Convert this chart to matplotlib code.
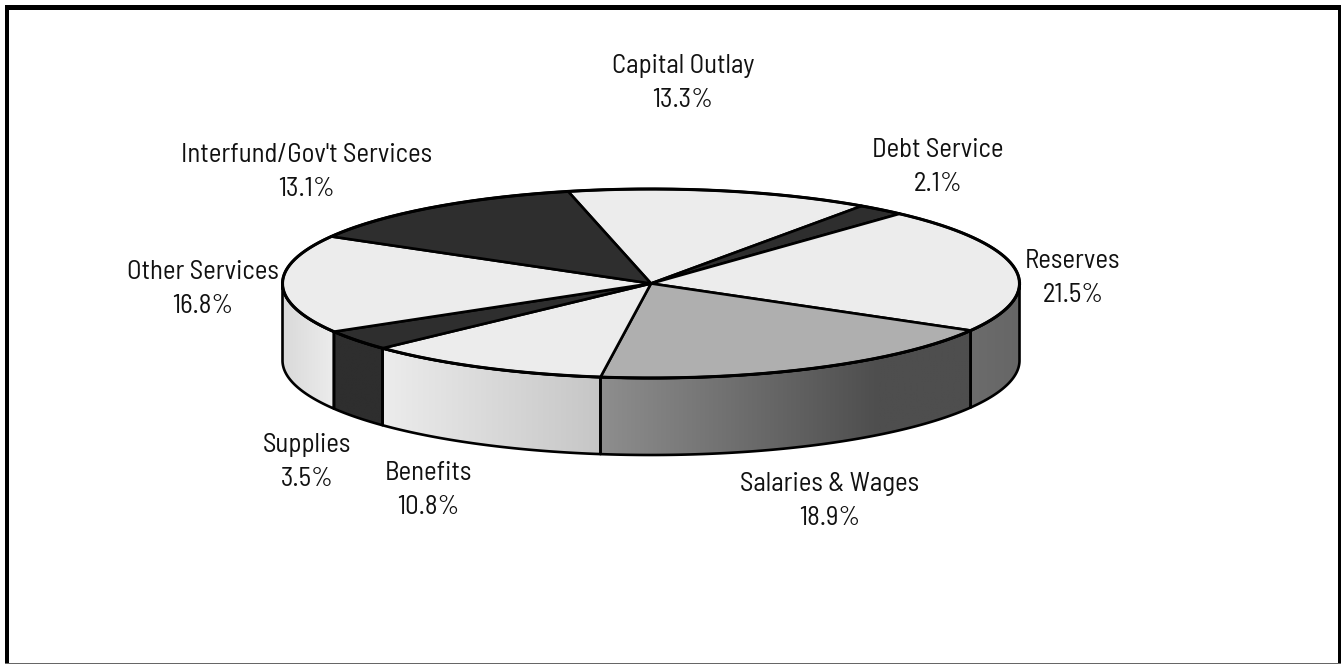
import numpy as np
import matplotlib
matplotlib.use("Agg")
import matplotlib.pyplot as plt
from matplotlib.patches import Polygon, Rectangle
from matplotlib.colors import LinearSegmentedColormap

# Budget shares, clockwise from the top of the disc
categories = ["Capital Outlay", "Debt Service", "Reserves", "Salaries & Wages",
              "Benefits", "Supplies", "Other Services", "Interfund/Gov't Services"]
shares = [13.3, 2.1, 21.5, 18.9, 10.8, 3.5, 16.8, 13.1]
top_colors = ["#ececec", "#2e2e2e", "#ececec", "#afafaf",
              "#ececec", "#2e2e2e", "#ececec", "#2e2e2e"]
# Grey ramp across each slice's visible side wall, left to right on screen
wall_ramps = [
    None,
    None,
    [(0, "#6c6c6c"), (1, "#666666")],
    [(0, "#8e8e8e"), (0.75, "#4e4e4e"), (1, "#4e4e4e")],
    [(0, "#ececec"), (1, "#c6c6c6")],
    [(0, "#2e2e2e"), (1, "#2e2e2e")],
    [(0, "#d9d9d9"), (1, "#ececec")],
    None,
]
label_pos = [(683, 83), (938, 167), (1073, 278), (830, 501),
             (428, 490), (307, 462), (203, 289), (307, 172)]

CX, CY, RX, RY, DEPTH = 651, 283.5, 368.5, 94.5, 77
START = 103.0
LABEL_FONT = ["Barlow Semi Condensed", "Roboto", "DejaVu Sans"]


def rim(t1, t2, dy=0.0, n=160):
    t = np.radians(np.linspace(t1, t2, n))
    return np.column_stack([CX + RX * np.cos(t), CY + dy - RY * np.sin(t)])


def visible_band(a, b):
    """Part of a clockwise slice (a > b) lying in the front half, as angles in [-180, 0]."""
    for shift in (0, -360, 360):
        lo = max(b + shift, -180)
        hi = min(a + shift, 0)
        if hi > lo:
            return lo, hi
    return None


fig = plt.figure(figsize=(13.41, 6.64), dpi=100, facecolor="white")
ax = fig.add_axes([0, 0, 1, 1])
ax.axis("off")

fracs = np.array(shares) / sum(shares)
edges = START - 360 * np.concatenate([[0], np.cumsum(fracs)])

# Side walls
for i, ramp in enumerate(wall_ramps):
    band = visible_band(edges[i], edges[i + 1])
    if band is None or ramp is None:
        continue
    outline = np.vstack([rim(band[0], band[1]), rim(band[1], band[0], DEPTH)])
    cmap = LinearSegmentedColormap.from_list(f"wall{i}", ramp)
    x0, x1 = outline[:, 0].min(), outline[:, 0].max()
    y0, y1 = outline[:, 1].min(), outline[:, 1].max()
    clip = Polygon(outline, closed=True, fc="none", ec="none")
    ax.add_patch(clip)
    im = ax.imshow(np.linspace(0, 1, 256)[None, :], cmap=cmap, vmin=0, vmax=1,
                   extent=(x0, x1, y1, y0), aspect="auto", zorder=1,
                   interpolation="bilinear")
    im.set_clip_path(clip)
    ax.add_patch(Polygon(outline, closed=True, fc="none", ec="black", lw=1.9,
                         zorder=2, joinstyle="round"))

ax.set_xlim(0, 1341)
ax.set_ylim(664, 0)

# Top face wedges
for i, color in enumerate(top_colors):
    pts = np.vstack([[CX, CY], rim(edges[i], edges[i + 1])])
    ax.add_patch(Polygon(pts, closed=True, fc=color, ec="black", lw=1.9,
                         zorder=3, joinstyle="round"))

# Heavier outer rim of the disc
ring = rim(0, 360, n=400)
ax.plot(ring[:, 0], ring[:, 1], color="black", lw=2.2, zorder=4)

# Labels
for name, share, (x, y) in zip(categories, shares, label_pos):
    ax.text(x, y, f"{name}\n{share:.1f}%", ha="center", va="center", fontsize=19.3,
            family=LABEL_FONT, fontweight="normal", linespacing=1.52,
            color="#111111", zorder=5)

# Frame: heavy top, left and right edges, hairline along the bottom
frame = dict(fc="black", ec="none", zorder=6)
ax.add_patch(Rectangle((5, 4.5), 1336, 5, **frame))
ax.add_patch(Rectangle((5, 4.5), 4, 659.5, **frame))
ax.add_patch(Rectangle((1338, 4.5), 3, 659.5, **frame))
ax.add_patch(Rectangle((5, 662.6), 1336, 1.4, fc="#666666", ec="none", zorder=6))

fig.savefig("out.png", dpi=100, facecolor="white")
